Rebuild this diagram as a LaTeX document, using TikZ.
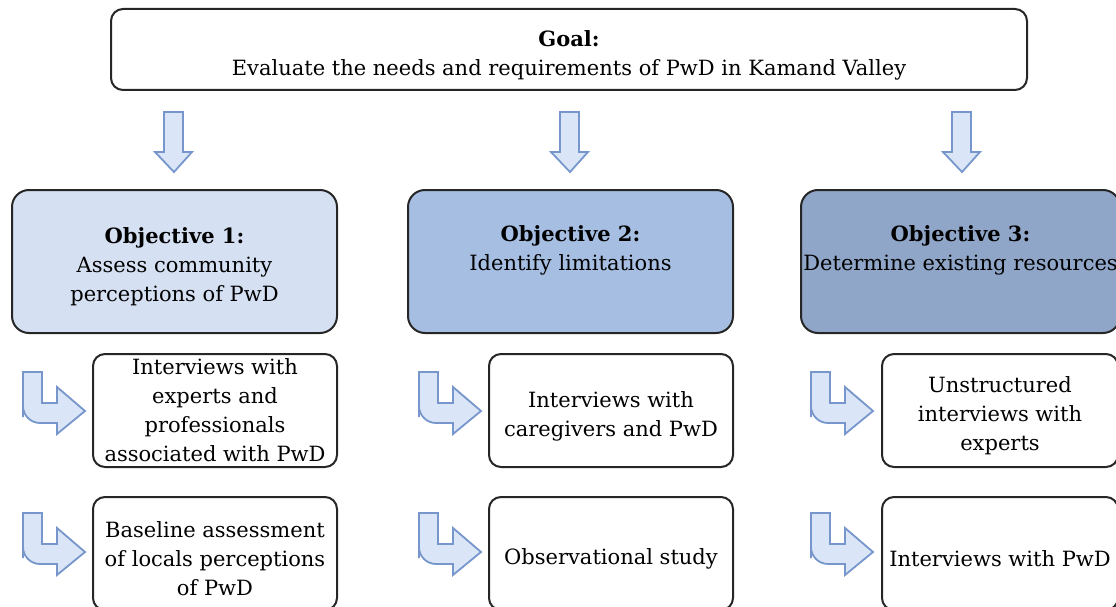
\documentclass[tikz,border=0pt]{standalone}
\usepackage{fontspec}
\setmainfont{DejaVu Serif}
\usepackage{xcolor}
\usepackage{tikz}

\definecolor{objone}{RGB}{213,224,242}
\definecolor{objtwo}{RGB}{165,190,226}
\definecolor{objthree}{RGB}{143,166,200}
\definecolor{arrowfill}{RGB}{218,230,247}
\definecolor{arrowline}{RGB}{118,150,204}

% extra room above the first line
\newcommand{\lowtext}{\rule{0pt}{27pt}}

\begin{document}
\begin{tikzpicture}[x=1pt, y=-1pt,
    box/.style={draw=black!85, line width=2pt, align=center, inner sep=0pt,
        font=\fontsize{21}{29}\selectfont},
    goalbox/.style={box, rounded corners=12pt, minimum width=916pt, minimum height=81pt},
    objbox/.style={box, rounded corners=17pt, minimum width=325pt, minimum height=143pt},
    taskbox/.style={box, rounded corners=12pt, minimum width=244pt, minimum height=113pt},
    blockarrow/.style={draw=arrowline, fill=arrowfill, line width=1.8pt, line join=miter}]
    \useasboundingbox (0,0) rectangle (1116,607);

    % goal
    \node[goalbox] (goal) at (569,49.5) {\lowtext\textbf{Goal:}\\Evaluate the needs and requirements of PwD in Kamand Valley};

    % objectives
    \node[objbox, fill=objone] (obj1) at (174.5,261.5) {\lowtext\textbf{Objective 1:}\\Assess community\\perceptions of PwD};
    \node[objbox, fill=objtwo] (obj2) at (570.5,261.5) {\lowtext\textbf{Objective 2:}\\Identify limitations\\\strut};
    \node[objbox, fill=objthree, minimum width=319pt] (obj3) at (960.5,261.5) {\lowtext\textbf{Objective 3:}\\Determine existing resources\\\strut};

    % methods
    \node[taskbox] (task11) at (215,410.5) {Interviews with\\experts and\\professionals\\associated with PwD};
    \node[taskbox] (task12) at (215,553.5) {\lowtext Baseline assessment\\of locals perceptions\\of PwD};
    \node[taskbox] (task21) at (611,410.5) {\lowtext Interviews with\\caregivers and PwD};
    \node[taskbox] (task22) at (611,553.5) {\lowtext Observational study};
    \node[taskbox, minimum width=236pt] (task31) at (1000,410.5) {\lowtext Unstructured\\interviews with\\experts};
    \node[taskbox, minimum width=236pt] (task32) at (1000,553.5) {\lowtext Interviews with PwD};

    % down arrows
    \foreach \dx in {0,396,788}
        \draw[blockarrow, shift={(\dx,0)}] (164,112) -- (183,112) -- (183,152) -- (192,152)
            -- (174,172) -- (155,152) -- (164,152) -- cycle;

    % bent arrows
    \foreach \dx in {0,396,788}
        \foreach \dy in {0,141}
            \draw[blockarrow, shift={(\dx,\dy)}] (23,372) -- (42,372) -- (42,403) -- (57,403)
                -- (57,387) -- (85,411) -- (57,434) -- (57,423) -- (47,423)
                {[rounded corners=17pt] -- (23,423) -- (23,400)} -- cycle;
\end{tikzpicture}
\end{document}
